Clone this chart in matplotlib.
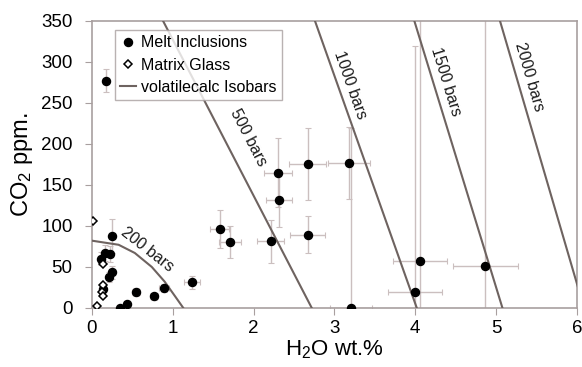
import matplotlib
matplotlib.use("Agg")
import matplotlib.pyplot as plt
import numpy as np

plt.rcParams['font.family'] = ['Liberation Sans', 'DejaVu Sans']
plt.rcParams['mathtext.fontset'] = 'custom'
plt.rcParams['mathtext.rm'] = 'Liberation Sans'
plt.rcParams['mathtext.it'] = 'Liberation Sans:italic'

# Melt inclusions: H2O wt.%, CO2 ppm, errors
mi_h2o = [0.17, 0.25, 0.16, 0.22, 0.11, 0.25, 0.21, 0.14, 0.35, 0.43, 0.54, 0.77, 0.89, 1.24,
          1.58, 1.71, 2.21, 2.30, 2.32, 2.67, 2.67, 3.18, 3.21, 4.06, 4.00, 4.87]
mi_co2 = [277, 88, 67, 66, 60, 43.5, 38, 23, 0, 5, 19, 14, 24, 31,
          96, 80.5, 81, 165, 131, 176, 89.5, 177, 0, 57, 19, 51.5]
mi_h2o_err = [0.03, 0.03, 0.03, 0.03, 0.03, 0.03, 0.03, 0.02, 0.03, 0.03, 0.05, 0.05, 0.06, 0.10,
              0.12, 0.14, 0.17, 0.17, 0.16, 0.23, 0.22, 0.26, 0.26, 0.33, 0.33, 0.40]
mi_co2_err = [14, 21, 10, 10, 8, 8, 6, 5, 3, 3, 5, 4, 5, 8,
              23, 20, 26, 42, 32, 44, 22, 44, 220, 320, 300, 330]

# Matrix glass
mg_h2o = [0.01, 0.14, 0.14, 0.13, 0.14, 0.06]
mg_co2 = [106, 53, 28, 19, 14, 2]

# VolatileCalc isobars
iso200_h2o = [0.0, 0.33, 0.53, 0.74, 0.90, 1.03, 1.13]
iso200_co2 = [82, 77, 67, 50, 32, 14, 0]
iso500_h2o = [0.88, 2.72]
iso1000_h2o = [2.76, 4.02]
iso1500_h2o = [3.99, 5.08]
iso2000_h2o = [5.05, 6.09]
iso_line_co2 = [350, 0]

xticks = [0, 1, 2, 3, 4, 5, 6]
yticks = [0, 50, 100, 150, 200, 250, 300, 350]

line_col = '#6e6360'
err_col = '#cbbfbf'
spine_col = '#a89f9f'

fig = plt.figure(figsize=(5.82, 3.67), dpi=100)
ax = fig.add_axes([0.158, 0.161, 0.833, 0.782])

ax.errorbar(mi_h2o, mi_co2, xerr=mi_h2o_err, yerr=mi_co2_err, fmt='none',
            ecolor=err_col, elinewidth=1.0, capsize=2, capthick=0.8, zorder=2)

iso_kw = dict(color=line_col, lw=1.5, zorder=3)
ax.plot(iso200_h2o, iso200_co2, label='volatilecalc Isobars', **iso_kw)
for xs in (iso500_h2o, iso1000_h2o, iso1500_h2o, iso2000_h2o):
    ax.plot(xs, iso_line_co2, **iso_kw)

ax.plot(mi_h2o, mi_co2, 'o', color='black', ms=5.8, label='Melt Inclusions', zorder=4)
ax.plot(mg_h2o, mg_co2, 'D', mfc='white', mec='black', mew=1.1, ms=4, label='Matrix Glass', zorder=5)

lab_kw = dict(fontsize=11.5, color='#1a1a1a', ha='center', va='center', rotation_mode='anchor')
ax.text(0.69, 71, '200 bars', rotation=-38, **lab_kw)
ax.text(1.93, 208, '500 bars', rotation=-62.6, **lab_kw)
ax.text(3.19, 272, '1000 bars', rotation=-70.5, **lab_kw)
ax.text(4.38, 276, '1500 bars', rotation=-72.8, **lab_kw)
ax.text(5.41, 282, '2000 bars', rotation=-73.8, **lab_kw)

ax.set_xlim(0, 6)
ax.set_ylim(0, 350)
ax.set_xticks(xticks)
ax.set_yticks(yticks)
ax.tick_params(direction='out', length=5, color=spine_col, labelsize=13.5)
ax.tick_params(axis='x', pad=4)
ax.tick_params(axis='y', pad=9)
for s in ax.spines.values():
    s.set_color(spine_col)
    s.set_linewidth(1.2)
ax.set_xlabel('H$_2$O wt.%', fontsize=16, labelpad=1)
ax.set_ylabel('CO$_2$ ppm.', fontsize=17, labelpad=4)

h, l = ax.get_legend_handles_labels()
order = [l.index('Melt Inclusions'), l.index('Matrix Glass'), l.index('volatilecalc Isobars')]
leg = ax.legend([h[i] for i in order], [l[i] for i in order], loc='upper left',
                bbox_to_anchor=(0.047, 0.969), borderaxespad=0, fontsize=11.5,
                frameon=True, fancybox=False, edgecolor=spine_col, handlelength=1.0,
                handletextpad=0.3, labelspacing=0.45, borderpad=0.35)
leg.get_frame().set_linewidth(1.0)
leg.set_zorder(6)

fig.savefig('out.png', dpi=100)
